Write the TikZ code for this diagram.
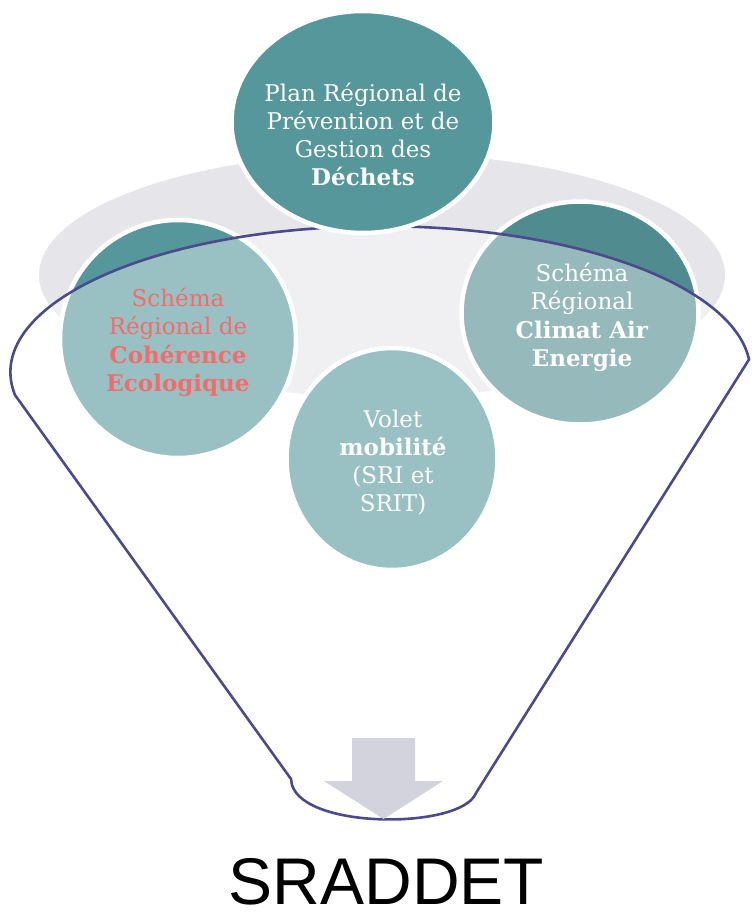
\documentclass[tikz,border=0pt]{standalone}
\usepackage{fontspec}
\setmainfont{DejaVu Serif}
\newfontfamily\sradfont{Liberation Sans}
\usepackage{xcolor}
\usetikzlibrary{shapes.geometric}
\definecolor{tealdark}{RGB}{85,151,154}
\definecolor{tealdeep}{RGB}{80,139,144}
\definecolor{ringgray}{RGB}{230,230,234}
\definecolor{funnelline}{RGB}{75,74,140}
\definecolor{arrowgray}{RGB}{211,211,222}
\definecolor{coral}{RGB}{243,108,108}

\begin{document}
\begin{tikzpicture}[x=1pt,y=-1pt,
    bubble/.style={ellipse,draw=white,line width=4.5pt,inner sep=0pt},
    txt/.style={align=center,text=white,inner sep=0pt,
      font=\fontsize{23}{28.3}\selectfont}]
  \useasboundingbox (0,0) rectangle (752,912);
  \clip (0,0) rectangle (752,912);
  \fill[ringgray] (382,275) ellipse [x radius=343, y radius=122];
  \node[bubble,fill=tealdark,minimum width=236,minimum height=238] (coherence) at (178,339) {};
  \node[bubble,fill=tealdeep,minimum width=237,minimum height=223] (climat) at (580,313) {};
  \node[bubble,fill=tealdark,minimum width=211,minimum height=222] (mobilite) at (392,459) {};
  \path[fill=white,fill opacity=0.4,draw=funnelline,line width=2.6pt]
    (15,395) arc[start angle=171, end angle=355, x radius=370, y radius=146]
    -- (476,793) .. controls (462,829) and (306,830) .. (292,785) -- (291,779) -- cycle;
  \fill[arrowgray] (352,738) -- (415,738) -- (415,781) -- (443,781) -- (383.5,819)
    -- (324,781) -- (352,781) -- cycle;
  \node[bubble,fill=tealdark,minimum width=263,minimum height=222] (dechets) at (363,122) {};
  \node[txt] (dechetstxt) at (363,134.5) {Plan Régional de\\Prévention et de\\Gestion des\\\textbf{Déchets}};
  \node[txt,text=coral] (coherencetxt) at (178,342.5) {Schéma\\Régional de\\\textbf{Cohérence}\\\textbf{Ecologique}};
  \node[txt] (climattxt) at (582,317.5) {Schéma\\Régional\\\textbf{Climat Air}\\\textbf{Energie}};
  \node[txt] (mobilitetxt) at (393,462.5) {Volet\\\textbf{mobilité}\\(SRI et\\SRIT)};
  \node[font=\sradfont\fontsize{66}{70}\selectfont,anchor=base,inner sep=0pt,text depth=0pt] (sraddet) at (386.5,904) {SRADDET};
\end{tikzpicture}
\end{document}
